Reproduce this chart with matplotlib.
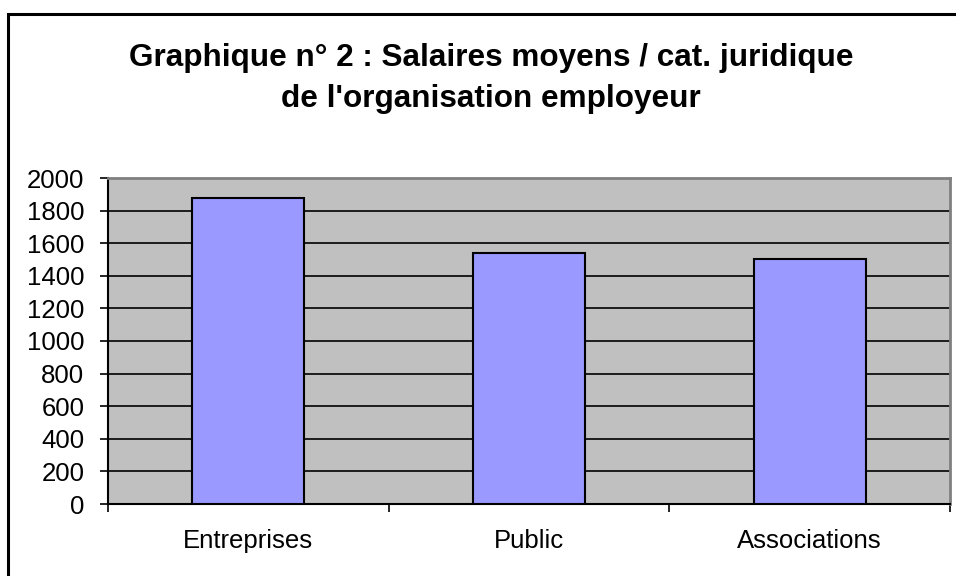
import numpy as np
import matplotlib.pyplot as plt
from matplotlib import font_manager
from matplotlib.patches import Rectangle

plt.rcParams['font.family'] = ['Liberation Sans', 'DejaVu Sans']

# Data
categories = ['Entreprises', 'Public', 'Associations']
salaires = [1875, 1538, 1502]
y_ticks = list(range(0, 2001, 200))

title_lines = ["Graphique n° 2 : Salaires moyens / cat. juridique",
               "de l'organisation employeur"]

# the title is set in a narrow bold face when one is available
installed = {f.name for f in font_manager.fontManager.ttflist}
if 'Liberation Sans Narrow' in installed:
    title_font, title_size = 'Liberation Sans Narrow', 27.5
else:
    title_font, title_size = 'Liberation Sans', 22.7

W, H = 956, 576
fig = plt.figure(figsize=(W / 100, H / 100), dpi=100)

# outer chart frame (cropped on the right and bottom)
fig.patches.append(Rectangle((8 / W, -0.1), 1.2, 1.1 - 14 / H,
                             transform=fig.transFigure, fill=False,
                             edgecolor='black', linewidth=2.2, clip_on=False))

ax = fig.add_axes([108 / W, 72 / H, 842 / W, 326 / H])
ax.set_facecolor('#C0C0C0')

x = np.arange(len(categories))
ax.bar(x, salaires, width=0.4, color='#9999FF', edgecolor='black',
       linewidth=1.5, zorder=3)

ax.set_xlim(-0.5, len(categories) - 0.5)
ax.set_ylim(0, 2000)
ax.set_yticks(y_ticks)
ax.set_yticklabels([str(v) for v in y_ticks], fontsize=18.5)
ax.yaxis.grid(True, color='black', linewidth=1.2, zorder=1)
ax.set_axisbelow(True)

# category labels between the boundary ticks
ax.set_xticks(np.arange(-0.5, len(categories), 1.0))
ax.set_xticklabels([])
ax.set_xticks(x, minor=True)
ax.set_xticklabels(categories, minor=True, fontsize=18.5)
ax.tick_params(axis='x', which='minor', length=0, pad=18)
ax.tick_params(axis='x', which='major', length=6, width=1.2, direction='out')
ax.tick_params(axis='y', length=6, width=1.2, direction='out', pad=11)

for side in ['top', 'right']:
    ax.spines[side].set_color('#808080')
    ax.spines[side].set_linewidth(2)
for side in ['left', 'bottom']:
    ax.spines[side].set_color('black')
    ax.spines[side].set_linewidth(1.5)

fig.text(491 / W, 1 - 58 / H, title_lines[0], ha='center', va='center',
         fontsize=title_size, fontweight='bold', family=title_font)
fig.text(491 / W, 1 - 99 / H, title_lines[1], ha='center', va='center',
         fontsize=title_size, fontweight='bold', family=title_font)

fig.savefig('out.png', dpi=100)
